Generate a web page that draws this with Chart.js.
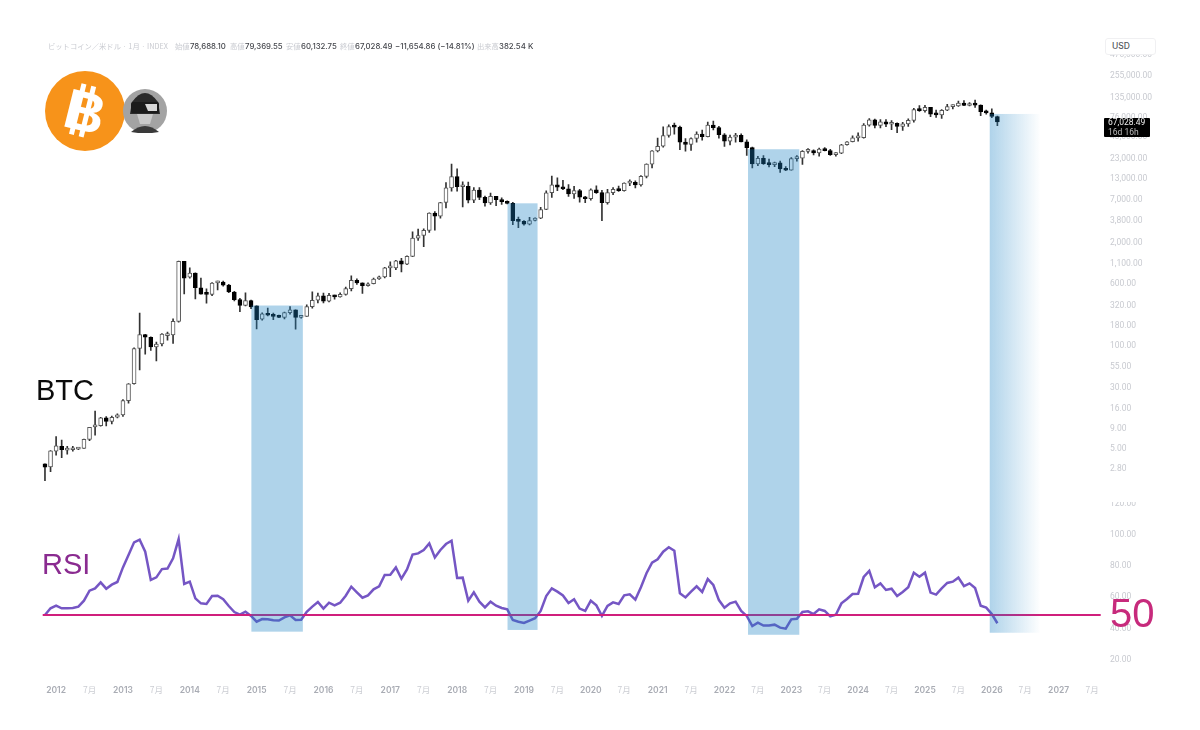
<!DOCTYPE html>
<html>
<head>
<meta charset="utf-8">
<script src="https://cdn.jsdelivr.net/npm/chart.js@4/dist/chart.umd.min.js"></script>
<style>
  html, body { margin: 0; padding: 0; background: #fff; }
  #wrap { position: relative; width: 1200px; height: 730px; overflow: hidden; }
  #grafico { position: absolute; left: 0; top: 0; }
  .t { position: absolute; white-space: nowrap; }
  .hdr { top: 41px; font: 500 7.8px/10px Inter, "Noto Sans CJK JP", sans-serif; color: #45474d; }
  .hdr.g { color: #c9cbd1; font-family: "Noto Sans CJK JP", sans-serif; font-weight: 400; font-size: 7.3px; }
  .big { font-family: "Liberation Sans", sans-serif; }
</style>
</head>
<body>
<div id="wrap">
  <canvas id="grafico" width="1200" height="730"></canvas>

  <span class="t hdr g" style="left:48px">ビットコイン／米ドル · 1月 · INDEX</span>
  <span class="t hdr g" style="left:175px">始値</span><span class="t hdr" style="left:190px">78,688.10</span>
  <span class="t hdr g" style="left:230px">高値</span><span class="t hdr" style="left:245px">79,369.55</span>
  <span class="t hdr g" style="left:286px">安値</span><span class="t hdr" style="left:301px">60,132.75</span>
  <span class="t hdr g" style="left:340px">終値</span><span class="t hdr" style="left:355px">67,028.49</span>
  <span class="t hdr" style="left:395px">−11,654.86 (−14.81%)</span>
  <span class="t hdr g" style="left:477px">出来高</span><span class="t hdr" style="left:499px">382.54 K</span>

  <svg class="t" style="left:44px;top:70px" width="126" height="84" viewBox="0 0 126 84">
    <circle cx="41" cy="41" r="40" fill="#f7931a"/>
    <g transform="rotate(14 41 41)" fill="#fff">
      <rect x="31" y="15" width="5" height="52"/>
      <rect x="41" y="15" width="5" height="52"/>
      <text x="21" y="61" font-family="Liberation Sans" font-weight="700" font-size="56">B</text>
    </g>
    <circle cx="101" cy="41" r="22" fill="#a3a3a3"/>
    <path d="M88 32 Q101 14 114 32 L116 44 L86 44 Z" fill="#2a2a2a"/>
    <rect x="87" y="32" width="28" height="11" rx="2" fill="#1b1b1b"/>
    <path d="M101 34 L113 34 L113 41 L104 41 Z" fill="#d8d8d8"/>
    <path d="M93 44 L109 44 L106 54 L96 54 Z" fill="#c9c9c9"/>
    <path d="M87 62 Q101 50 115 62 L108 63 L94 63 Z" fill="#3a3a3a"/>
  </svg>

  <span class="t big" style="left:36px;top:373px;font-size:29px;line-height:34px;color:#0b0b0b">BTC</span>
  <span class="t big" style="left:42px;top:547px;font-size:29px;line-height:34px;color:#8a2b90">RSI</span>
  <span class="t big" style="left:1110px;top:590px;font-size:40px;line-height:46px;color:#c72a7c">50</span>

  <div class="t" style="left:1105px;top:38px;width:49px;height:15px;background:#fff;border:1px solid #f0f0f2;border-radius:3px;font:500 8.5px/15px Inter,sans-serif;color:#55575d"><span style="margin-left:6px">USD</span></div>
  <div class="t" style="left:1104px;top:118px;width:46px;height:19px;background:#000;border-radius:1px;font:400 8.5px/9.5px Roboto,sans-serif;color:#eee"><span style="margin-left:4px">67,028.49</span><br><span style="margin-left:4px;color:#bbb">16d 16h</span></div>
  <div class="t" style="left:1105px;top:496px;width:50px;height:6px;background:#fff"></div>
</div>

<script>
// meses del eje: Oct 2011 .. Sep 2027
var meses = [];
for (var a = 2011; a <= 2027; a++) {
    for (var m = 1; m <= 12; m++) {
        if ((a == 2011 && m < 10) || (a == 2027 && m > 9)) continue;
        meses.push(a + "-" + (m < 10 ? "0" + m : m));
    }
}

var aperturas = [null, 3.25, 2.97,
    4.7, 5.4, 4.86, 4.9, 5.0, 5.1, 6.6, 9.5, 9.9, 12.4, 11.2, 12.6,
    13.5, 20.4, 33.4, 93, 139, 129, 97, 106, 135, 138, 204, 1170,
    740, 830, 540, 455, 447, 626, 640, 585, 480, 385, 325, 375,
    320, 218, 255, 244, 236, 230, 263, 285, 230, 236, 314, 378,
    430, 368, 437, 416, 448, 530, 673, 624, 575, 610, 700, 745,
    965, 966, 1190, 1080, 1350, 2290, 2480, 2870, 4740, 4340, 6460, 9900,
    13700, 10200, 10300, 6900, 9240, 7490, 6390, 7730, 7000, 6620, 6300, 3900,
    3740, 3450, 3830, 4100, 5270, 8570, 10800, 10100, 9600, 8300, 9150, 7550,
    7200, 9350, 8600, 6410, 8620, 9450, 9140, 11350, 11650, 10780, 13800, 19700,
    28900, 33100, 45200, 58800, 57700, 37300, 35000, 41500, 47100, 43800, 61300, 56900,
    46300, 38500, 43200, 45500, 37600, 31800, 19800, 23300, 20000, 19400, 20500, 17200,
    16500, 23100, 23500, 28500, 29300, 27200, 30480, 29200, 26000, 27000, 34600, 37700,
    42300, 42600, 61200, 71300, 60600, 67500, 62700, 64600, 59000, 63300, 70200, 96400,
    93400, 102400, 84300, 82500, 94200, 104600, 107100, 115700, 108200, 114000, 109500, 90400,
    87500, 78688.10];

var maximos = [null, 3.25, 4.8,
    7.2, 6.5, 5.4, 5.4, 5.2, 6.7, 9.4, 15.1, 12.6, 12.9, 13, 13.9,
    21, 33.5, 95, 260, 140, 130, 112, 143, 150, 220, 1175, 1170,
    965, 840, 720, 526, 630, 660, 660, 600, 490, 400, 470, 380,
    320, 262, 300, 261, 245, 267, 314, 285, 240, 330, 483, 465,
    465, 460, 440, 470, 555, 765, 705, 625, 625, 720, 760, 980,
    1150, 1200, 1280, 1370, 2760, 2980, 3000, 4800, 4980, 6480, 11500, 19700,
    17200, 11800, 11700, 9960, 10000, 7780, 8480, 7750, 7400, 6800, 6500, 4230,
    3830, 4200, 4150, 5600, 9090, 13900, 13200, 12300, 10900, 10350, 9500, 7750,
    9580, 10500, 9190, 9500, 10000, 10400, 11450, 12480, 12090, 14100, 19900, 29300,
    41900, 58300, 61700, 64900, 59500, 41300, 42300, 50500, 52900, 67000, 69000, 59000,
    47900, 45800, 48200, 47400, 40000, 32400, 24700, 25200, 22800, 20900, 21500, 18400,
    23900, 25200, 29200, 31000, 29800, 31400, 31800, 30200, 27500, 35000, 38000, 44700,
    48900, 64000, 73800, 72800, 72000, 72000, 70000, 65600, 66500, 73600, 99800, 108300,
    109100, 102500, 95000, 95800, 111900, 110400, 123200, 124500, 117900, 126200, 110600, 94600,
    97900, 79369.55];

var minimos = [null, 2.0, 2.6,
    4.2, 3.9, 4.3, 4.7, 4.9, 5.1, 6.4, 7.5, 9.7, 9.8, 10.4, 12.4,
    12.9, 19, 33, 50, 79, 88, 65, 100, 118, 108, 200, 453,
    715, 392, 450, 348, 430, 510, 570, 470, 370, 271, 320, 295,
    164, 212, 240, 215, 228, 220, 252, 163, 225, 236, 300, 350,
    350, 360, 390, 412, 436, 495, 600, 460, 570, 605, 690, 720,
    750, 915, 860, 1060, 1340, 2150, 1790, 2700, 2900, 4100, 5500, 9000,
    9000, 5700, 6400, 6430, 7040, 5800, 6100, 5880, 6100, 6200, 3400, 3120,
    3350, 3380, 3780, 4050, 5250, 7500, 9100, 9350, 7700, 7300, 6500, 6430,
    6900, 8400, 3800, 6150, 8100, 8900, 8950, 10520, 9900, 10370, 13200, 17600,
    28000, 32300, 43000, 47000, 30000, 28800, 29300, 37300, 39600, 43300, 53300, 42000,
    32900, 34300, 37200, 37500, 25400, 17600, 18800, 19600, 18200, 18300, 15500, 16300,
    16500, 21400, 19500, 27000, 25800, 24800, 29000, 25400, 24900, 26600, 34100, 37600,
    38500, 41900, 59300, 56600, 56500, 58400, 53500, 49000, 52500, 58900, 66800, 91300,
    89100, 78200, 76600, 74500, 93300, 98200, 105200, 107300, 107200, 102000, 80600, 83800,
    75700, 60132.75];

var cierres = [null, 2.95, 4.75,
    5.5, 4.9, 4.9, 5.0, 5.15, 6.65, 9.4, 10.1, 12.4, 11.2, 12.6, 13.5,
    20.4, 33.4, 93, 139, 129, 97, 106, 141, 138, 204, 1170, 715,
    830, 545, 450, 447, 620, 640, 585, 480, 385, 325, 375, 312,
    215, 255, 244, 236, 230, 263, 285, 230, 236, 314, 378, 430,
    368, 437, 416, 448, 530, 673, 624, 575, 610, 700, 745, 965,
    965, 1190, 1080, 1350, 2300, 2480, 2870, 4740, 4340, 6460, 9900, 13700,
    10200, 10300, 6900, 9240, 7490, 6390, 7730, 7000, 6620, 6300, 3800, 3740,
    3450, 3830, 4100, 5270, 8570, 10800, 10100, 9600, 8300, 9150, 7550, 7200,
    9350, 8600, 6410, 8620, 9450, 9140, 11350, 11650, 10780, 13800, 19700, 28900,
    33100, 45200, 58800, 57700, 37300, 35000, 41500, 47100, 43800, 61300, 56900, 46300,
    38500, 43200, 45500, 37600, 31800, 19800, 23300, 20000, 19400, 20500, 17200, 16500,
    23100, 23500, 28500, 29300, 27200, 30480, 29200, 26000, 27000, 34600, 37700, 42300,
    42600, 61200, 71300, 60600, 67500, 62700, 64600, 59000, 63300, 70200, 96400, 93400,
    102400, 84300, 82500, 94200, 104600, 107100, 115700, 108200, 114000, 109500, 90400, 87500,
    78688.10, 67028.49];

var rsi = [null, 48.6, 52.9,
    54.6, 52.9, 52.9, 53.1, 54.0, 57.8, 64.2, 65.7, 69.6, 65.5, 68.1, 69.8,
    79.2, 87.1, 95.3, 97.0, 89.3, 71.1, 72.8, 78.1, 78.4, 85.0, 97.4, 68.5,
    70.0, 59.3, 56.1, 55.7, 60.8, 61.0, 58.7, 54.4, 50.5, 48.8, 50.7, 48.0,
    44.3, 46.0, 45.8, 45.2, 45.0, 47.1, 48.4, 45.4, 45.6, 50.7, 54.0, 57.0,
    52.7, 56.5, 54.8, 56.5, 61.0, 66.8, 63.2, 59.7, 61.2, 65.1, 67.0, 74.3,
    74.5, 79.2, 71.9, 77.9, 87.4, 88.2, 90.4, 94.6, 85.6, 90.4, 94.2, 96.3,
    72.4, 72.6, 57.8, 63.2, 57.2, 53.5, 57.2, 54.6, 53.1, 52.2, 45.4, 44.3,
    43.5, 45.0, 46.5, 51.2, 60.8, 65.7, 63.6, 61.2, 56.3, 58.7, 52.7, 51.2,
    57.8, 54.8, 48.0, 54.4, 56.7, 55.7, 61.2, 61.9, 58.5, 66.4, 75.4, 82.2,
    84.4, 89.3, 92.1, 89.9, 62.5, 59.9, 63.6, 67.0, 63.4, 71.7, 67.9, 58.2,
    53.3, 56.1, 57.2, 51.2, 48.0, 41.5, 43.7, 41.8, 41.8, 42.4, 40.5, 39.8,
    45.8, 46.2, 50.5, 51.0, 49.2, 52.2, 51.2, 47.7, 48.8, 56.1, 58.9, 62.1,
    62.3, 73.0, 76.9, 66.4, 68.9, 64.7, 65.5, 60.8, 63.4, 66.4, 75.8, 73.2,
    75.8, 63.0, 61.7, 65.7, 69.2, 70.0, 72.6, 67.2, 68.9, 65.9, 54.6, 53.3,
    49.2, 43.3];

var nivelRsi = 48.6;

var preciosEje = [470000, 255000, 135000, 76000, 43000, 23000, 13000, 7000, 3800, 2000, 1100, 600, 320, 180, 100, 55, 30, 16, 9, 5, 2.8];
var rsiEje = [120, 100, 80, 60, 40, 20];

// bandas sombreadas (posicion en meses del eje, tope en precio, base en RSI)
var bandaInicio = [38.06, 84.05, 127.23, 170.63];
var bandaFin = [47.3, 89.44, 136.44, 179.77];
var bandaTope = [324, 6310, 30340, 84600];
var bandaBase = [37.9, 39.0, 35.9, 37.2];

var mechas = minimos.map(function (l, i) { return l == null ? null : [l, maximos[i]]; });
var cuerpos = aperturas.map(function (o, i) { return o == null ? null : [o, cierres[i]]; });
var sube = aperturas.map(function (o, i) { return cierres[i] >= o; });

var bandas = {
    id: "bandas",
    afterDatasetsDraw: function (chart) {
        var c = chart.ctx, x = chart.scales.x, p = chart.scales.precio, r = chart.scales.rsi;
        bandaInicio.forEach(function (ini, i) {
            var x0 = x.getPixelForValue(ini), x1 = x.getPixelForValue(bandaFin[i]);
            var y0 = p.getPixelForValue(bandaTope[i]), y1 = r.getPixelForValue(bandaBase[i]);
            c.save();
            if (i == bandaInicio.length - 1) {
                var g = c.createLinearGradient(x0, 0, x1, 0);
                g.addColorStop(0, "rgba(26,129,195,0.35)");
                g.addColorStop(1, "rgba(26,129,195,0)");
                c.fillStyle = g;
            } else {
                c.fillStyle = "rgba(26,129,195,0.35)";
            }
            c.fillRect(x0, y0, x1 - x0, y1 - y0);
            c.restore();
        });
    }
};

function anchoEje(axis) { axis.width = 96.8; }

new Chart(document.getElementById("grafico").getContext("2d"), {
    type: "bar",
    plugins: [bandas],
    data: {
        labels: meses,
        datasets: [
            {
                type: "line", data: [{ x: meses[0], y: nivelRsi }, { x: meses[meses.length - 1], y: nivelRsi }],
                yAxisID: "rsi", borderColor: "#d01f7c", borderWidth: 2.2, pointRadius: 0, order: 0,
                clip: { left: -3.3, right: -2.5, top: false, bottom: false }
            },
            {
                type: "line", data: rsi, yAxisID: "rsi", borderColor: "#7556c4", borderWidth: 2.5,
                pointRadius: 0, tension: 0, order: 1, borderJoinStyle: "miter"
            },
            {
                data: cuerpos, yAxisID: "precio", barThickness: 4, grouped: false, order: 2,
                backgroundColor: sube.map(function (s) { return s ? "#fff" : "#000"; }),
                borderColor: sube.map(function (s) { return s ? "#555" : "#000"; }),
                borderWidth: 1, borderSkipped: false, minBarLength: 2
            },
            {
                data: mechas, yAxisID: "precio", barThickness: 1, grouped: false, order: 3,
                backgroundColor: "#333", borderWidth: 0
            }
        ]
    },
    options: {
        responsive: false,
        animation: false,
        layout: { padding: { left: 39.4, top: 48, right: 0, bottom: 0 } },
        plugins: { legend: { display: false }, tooltip: { enabled: false } },
        scales: {
            x: {
                type: "category",
                offset: false,
                grid: { display: false, drawTicks: false },
                border: { display: false },
                afterFit: function (axis) { axis.height = 50; },
                ticks: {
                    autoSkip: false, maxRotation: 0, minRotation: 0, padding: 5,
                    color: function (ctx) { return ctx.tick && ctx.tick.label == "7月" ? "#cbcdd3" : "#a9acb4"; },
                    font: function (ctx) {
                        return ctx.tick && ctx.tick.label == "7月"
                            ? { family: "'Noto Sans CJK JP'", size: 8.5 }
                            : { family: "Inter", size: 8.5, weight: "600" };
                    },
                    callback: function (v) {
                        var l = this.getLabelForValue(v);
                        if (l.slice(5) == "01") return l.slice(0, 4);
                        if (l.slice(5) == "07") return "7月";
                        return null;
                    }
                }
            },
            precio: {
                type: "logarithmic",
                position: "right",
                stack: "paneles",
                stackWeight: 454,
                weight: 0,
                min: 1.075,
                max: 575000,
                grid: { display: false, drawTicks: false },
                border: { display: false },
                afterFit: anchoEje,
                afterBuildTicks: function (axis) { axis.ticks = preciosEje.map(function (v) { return { value: v }; }); },
                ticks: {
                    autoSkip: false, padding: 6.8, color: "#c8cad0", font: { family: "Roboto", size: 8.5 },
                    callback: function (v) { return v.toLocaleString("en-US", { minimumFractionDigits: 2, maximumFractionDigits: 2 }); }
                }
            },
            rsi: {
                type: "linear",
                position: "right",
                stack: "paneles",
                stackWeight: 178,
                weight: 1,
                min: 6.84,
                max: 121.2,
                grid: { display: false, drawTicks: false },
                border: { display: false },
                afterFit: anchoEje,
                afterBuildTicks: function (axis) { axis.ticks = rsiEje.map(function (v) { return { value: v }; }); },
                ticks: {
                    autoSkip: false, padding: 6.8, color: "#c8cad0", font: { family: "Roboto", size: 8.5 },
                    callback: function (v) { return v.toFixed(2); }
                }
            }
        }
    }
});
</script>
</body>
</html>
